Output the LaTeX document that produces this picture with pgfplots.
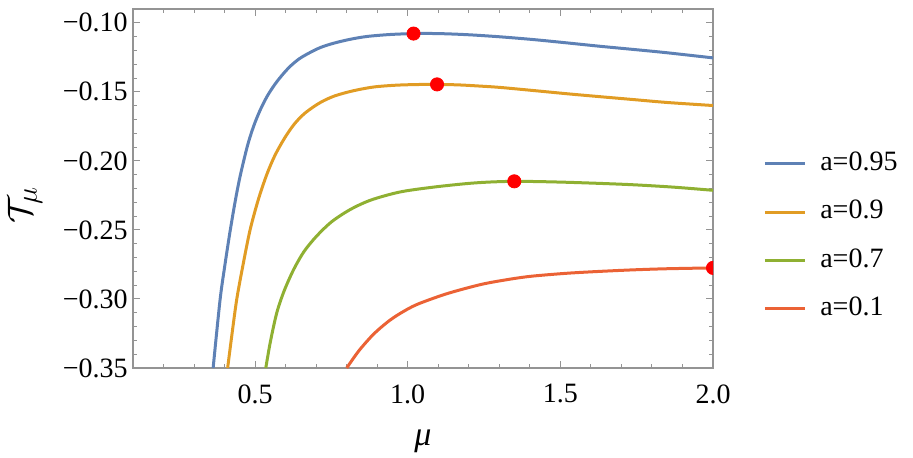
\documentclass[border=0pt]{standalone}
\usepackage{fontspec}
\setmainfont{Liberation Serif}
\usepackage{pgfplots}
\pgfplotsset{compat=1.18}

\definecolor{mblue}{rgb}{0.368417,0.506779,0.709798}
\definecolor{morange}{rgb}{0.880722,0.611041,0.142051}
\definecolor{mgreen}{rgb}{0.560181,0.691569,0.194885}
\definecolor{mred}{rgb}{0.922526,0.385626,0.209179}
\definecolor{framegray}{rgb}{0.58,0.58,0.58}

\begin{document}
\begin{tikzpicture}
\path[use as bounding box] (0,0) rectangle (456.5pt,228.5pt);
\begin{axis}[
    at={(66.5pt,44.5pt)}, anchor=south west,
    scale only axis, width=290pt, height=179.5pt,
    xmin=0.1, xmax=2.0, ymin=-0.35, ymax=-0.09,
    xtick={0.5,1.0,1.5,2.0}, xticklabels={0.5,1.0,1.5,2.0},
    minor xtick={0.2,0.3,0.4,0.6,0.7,0.8,0.9,1.1,1.2,1.3,1.4,1.6,1.7,1.8,1.9},
    ytick={-0.35,-0.30,-0.25,-0.20,-0.15,-0.10},
    yticklabels={−0.35,−0.30,−0.25,−0.20,−0.15,−0.10},
    minor ytick={-0.34,-0.33,-0.32,-0.31,-0.29,-0.28,-0.27,-0.26,-0.24,-0.23,-0.22,-0.21,-0.19,-0.18,-0.17,-0.16,-0.14,-0.13,-0.12,-0.11},
    tick align=inside, tick pos=both,
    xticklabel pos=lower, yticklabel pos=left,
    major tick length=3.5pt, minor tick length=2pt,
    axis line style={draw=framegray, line width=0.6pt},
    every tick/.style={framegray, line width=0.5pt},
    tick label style={font=\fontsize{14}{16}\selectfont, text=black},
    yticklabel style={inner sep=0pt, xshift=-2.5pt},
    xticklabel style={inner sep=0pt, yshift=-8pt},
    xlabel={\fontsize{17}{19}\selectfont\textit{μ}},
    xlabel style={at={(axis description cs:0.5,-0.205)}, anchor=center},
    ylabel={\fontsize{19}{22}\selectfont$\mathcal{T}_{\mu}$},
    ylabel style={at={(axis description cs:-0.186,0.455)}, anchor=center, rotate=0},
    clip marker paths=true,
    legend cell align=left,
    legend image code/.code={\draw[#1] (0pt,0pt) -- (20pt,0pt);},
    legend style={draw=none, fill=none, at={(rel axis cs:1.086,0.605)}, anchor=north west,
      inner sep=0pt, font=\fontsize{14}{16}\selectfont, row sep=11.7pt,
      nodes={inner sep=0pt, text height=9.5pt, text depth=3pt},
      column sep=7pt},
  ]
  % a = 0.95
  \addplot[mblue, line width=1.5pt, smooth] coordinates {
    (0.3625,-0.3500) (0.385,-0.3010) (0.400,-0.2770) (0.418,-0.2510) (0.435,-0.2290)
    (0.451,-0.2110) (0.475,-0.1890) (0.495,-0.1750) (0.516,-0.1635) (0.540,-0.1530)
    (0.565,-0.1445) (0.590,-0.1375) (0.615,-0.1315) (0.645,-0.1260) (0.680,-0.1215)
    (0.715,-0.1178) (0.757,-0.1148) (0.810,-0.1120) (0.866,-0.1099) (0.940,-0.1085)
    (1.019,-0.1078) (1.100,-0.1078) (1.195,-0.1086) (1.300,-0.1101) (1.410,-0.1121)
    (1.520,-0.1145) (1.630,-0.1170) (1.740,-0.1193) (1.850,-0.1217) (2.000,-0.1254)
  };
  % a = 0.9
  \addplot[morange, line width=1.5pt, smooth] coordinates {
    (0.410,-0.3500) (0.425,-0.3242) (0.440,-0.3000) (0.460,-0.2758) (0.483,-0.2505)
    (0.510,-0.2284) (0.538,-0.2100) (0.565,-0.1960) (0.598,-0.1830) (0.630,-0.1729)
    (0.665,-0.1651) (0.713,-0.1578) (0.760,-0.1530) (0.820,-0.1493) (0.888,-0.1465)
    (0.960,-0.1452) (1.030,-0.1447) (1.096,-0.1446) (1.170,-0.1450) (1.250,-0.1460)
    (1.303,-0.1468) (1.410,-0.1490) (1.523,-0.1514) (1.630,-0.1535) (1.740,-0.1556)
    (1.850,-0.1577) (2.000,-0.1599)
  };
  % a = 0.7
  \addplot[mgreen, line width=1.5pt, smooth] coordinates {
    (0.535,-0.3500) (0.550,-0.3310) (0.571,-0.3100) (0.595,-0.2942) (0.626,-0.2788)
    (0.660,-0.2657) (0.701,-0.2546) (0.750,-0.2442) (0.811,-0.2353) (0.880,-0.2283)
    (0.975,-0.2225) (1.084,-0.2190) (1.195,-0.2164) (1.270,-0.2153) (1.349,-0.2148)
    (1.430,-0.2150) (1.523,-0.2155) (1.630,-0.2163) (1.740,-0.2173) (1.870,-0.2190)
    (2.000,-0.2213)
  };
  % a = 0.1
  \addplot[mred, line width=1.5pt, smooth] coordinates {
    (0.800,-0.3500) (0.840,-0.3375) (0.888,-0.3255) (0.935,-0.3165) (0.975,-0.3105)
    (1.030,-0.3040) (1.128,-0.2962) (1.238,-0.2896) (1.320,-0.2862) (1.402,-0.2836)
    (1.520,-0.2814) (1.631,-0.2800) (1.740,-0.2789) (1.850,-0.2781) (2.000,-0.2775)
  };
  \addplot[only marks, mark=*, mark size=3.3pt, color=red, forget plot] coordinates {
    (1.019,-0.1078) (1.096,-0.1446) (1.349,-0.2148) (2.000,-0.2775)
  };
  \legend{a=0.95,a=0.9,a=0.7,a=0.1}
\end{axis}
\end{tikzpicture}
\end{document}
